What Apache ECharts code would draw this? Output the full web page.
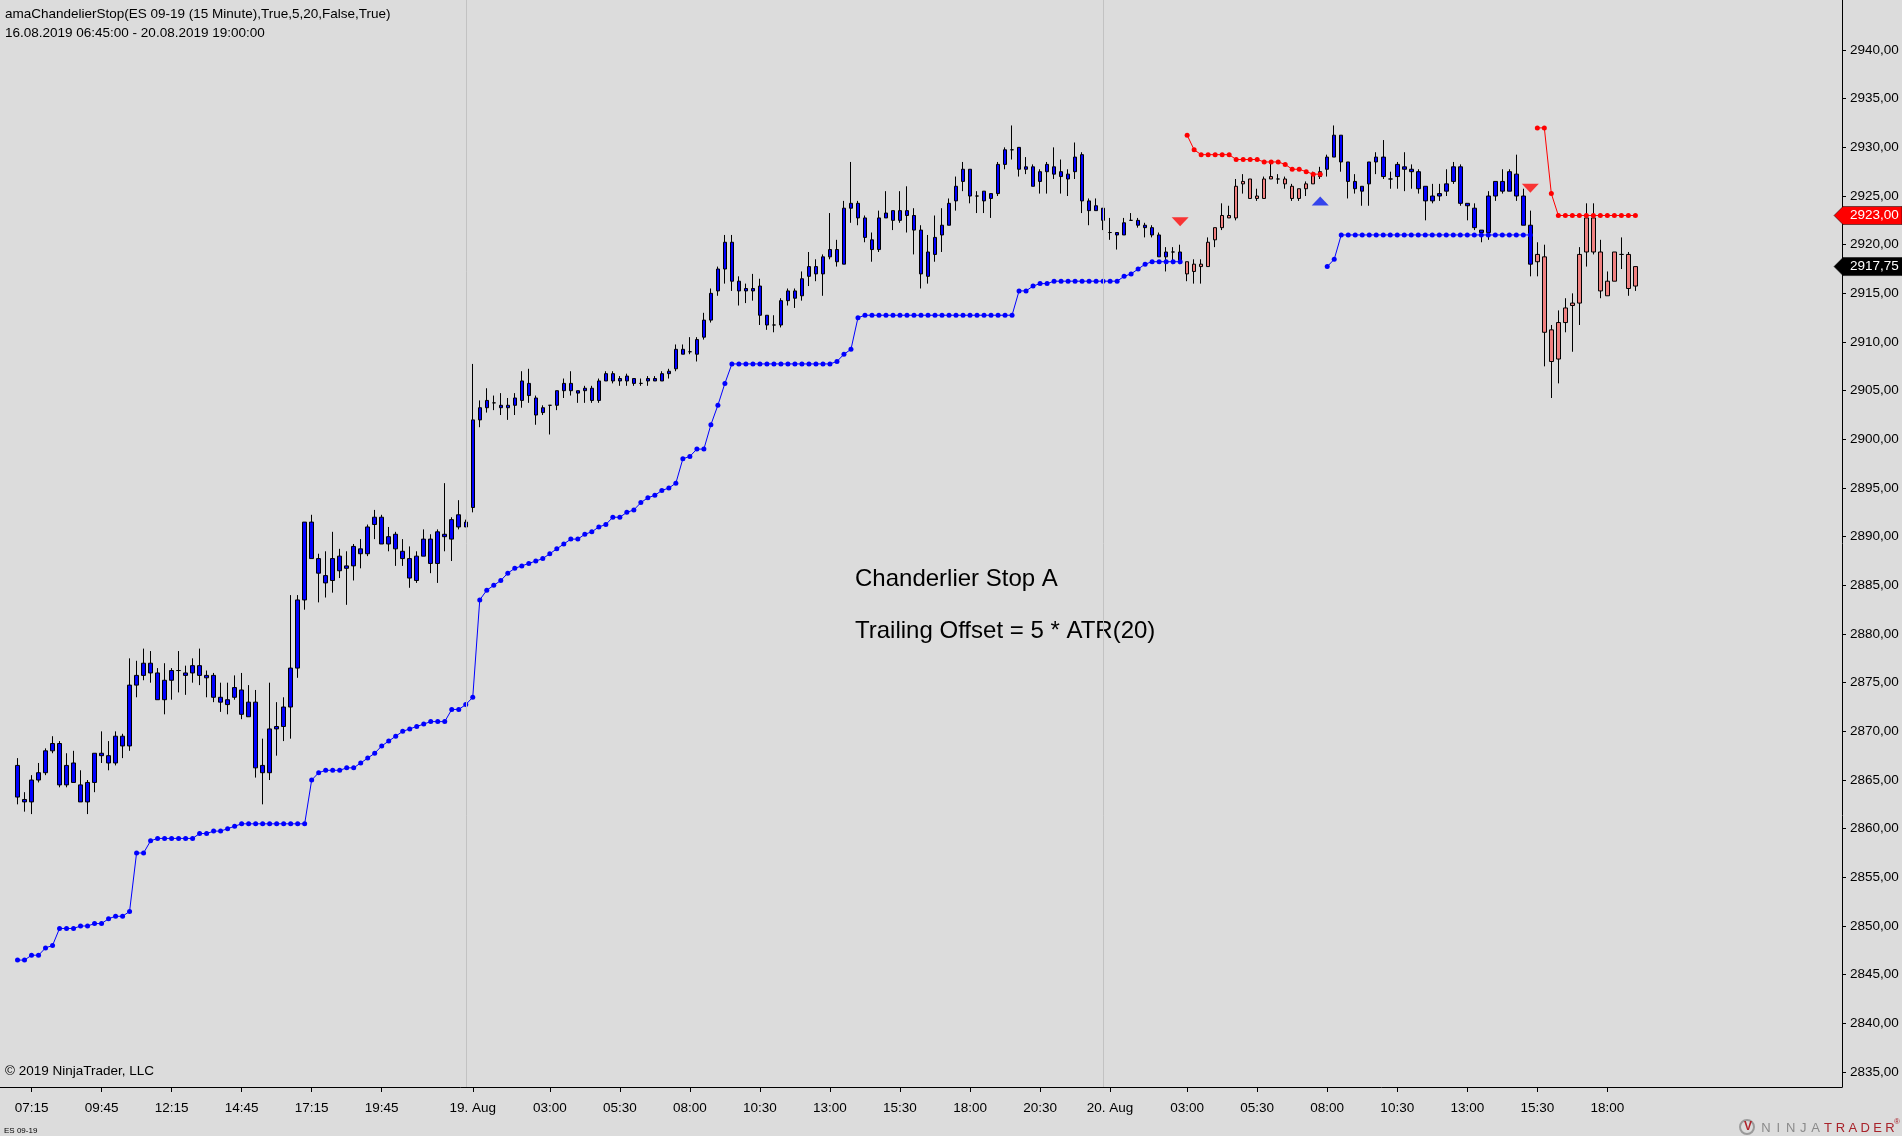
<!DOCTYPE html>
<html><head><meta charset="utf-8">
<script src="https://cdn.jsdelivr.net/npm/echarts@6/dist/echarts.min.js"></script>
<style>html,body{margin:0;padding:0;background:#dcdcdc;}#c{width:1902px;height:1136px;}</style>
</head><body><div id="c"></div>
<script>
const FONT = 'Arial, "Liberation Sans", sans-serif';

// ---- OHLC of the 232 fifteen-minute bars (ES 09-19) ----
const open = [
2866.5,2863,2862.75,2865,2865.75,2868,2868.75,2864.5,2866.75,2864.5,
2862.75,2864.75,2867.5,2867.5,2866.75,2869.5,2868.5,2874.75,2875.75,2877,
2876,2873.25,2875.25,2876.25,2876,2876,2876.75,2875.5,2875.75,2873.5,
2872.75,2873.5,2874.25,2871.5,2873,2866.5,2865.75,2870.25,2870.5,2872.5,
2876.5,2883.5,2891.5,2887.75,2886,2885.5,2888,2886.75,2887,2888.75,
2888.25,2891.25,2892,2889.25,2890.25,2888.5,2887.75,2885.5,2888,2889.75,
2887.25,2890.25,2889.75,2892.25,2891,2893,2902,2903.25,2903.75,2903.5,
2903.25,2903.5,2904,2905.75,2904.25,2902.75,2903.5,2903.5,2905,2905.75,
2905,2905,2905.25,2904,2906,2906.75,2906,2906.5,2906.25,2905.75,
2906,2906.25,2906,2906.75,2907.25,2909.25,2909,2908.75,2910.5,2912.25,
2915.25,2917.5,2920.25,2916.25,2915.25,2915.25,2915.75,2912.75,2911.75,2911.75,
2914.25,2915.25,2914.75,2916.75,2917.75,2917,2918.75,2919.5,2918,2923.75,
2924.25,2922.75,2920.5,2919.5,2922.75,2923.5,2922.5,2923.5,2923,2921.5,
2916.75,2919,2921,2922,2924.5,2926.5,2927.75,2925,2925.5,2924.75,
2925.25,2928.25,2929.75,2930,2927.75,2928,2926.5,2927.5,2928,2927.5,
2926.75,2927.5,2929.25,2924.5,2924,2923.75,2921.25,2921.25,2921,2922.5,
2922.5,2921.75,2921.75,2921,2918.75,2919.25,2919.25,2918.25,2917.25,2918,
2917.75,2920.5,2921.75,2923,2922.75,2926.25,2926.75,2925,2924.75,2927,
2926.75,2926.75,2926,2924.75,2925.75,2926.25,2927,2927.75,2929,2931.25,
2928.5,2926.5,2925.5,2926.25,2928.5,2929,2926.75,2927,2928,2927.75,
2927.5,2926,2924.5,2925,2925.5,2926.5,2928,2924.25,2923.75,2921.5,
2921.25,2925,2926.5,2925.5,2927.25,2925,2922,2918.25,2918.75,2911.25,
2908.25,2912,2913.75,2914,2919.25,2922.75,2919.25,2914.75,2916.25,2919,
2919,2915.75];
const high = [
2867.25,2863.75,2865.5,2866.75,2868.25,2869.5,2869,2867.75,2868,2866,
2865,2867.75,2870,2869,2870,2869.75,2877.5,2877.25,2878.5,2878.25,
2876.5,2877,2876.5,2878.25,2876.75,2877.5,2878.5,2876.25,2876,2875,
2875,2875.75,2876,2874.75,2874.25,2869.25,2875,2873,2873.5,2884,
2884,2891.5,2892.25,2888.25,2888.5,2890.5,2888.75,2888.5,2889.25,2889.75,
2891.25,2892.75,2892.25,2891,2890.5,2889.75,2889,2888.5,2890.75,2890.25,
2890.75,2895.5,2892,2893.75,2891.75,2907.75,2904,2905.25,2904.5,2904.75,
2904.25,2904.75,2907,2907.25,2904.5,2903.5,2903.5,2905,2906.25,2907,
2905,2905.5,2905.5,2906.25,2907,2907,2906.5,2906.75,2906.25,2906.25,
2906.5,2906.5,2907,2907.25,2909.75,2909.75,2910.5,2910.5,2913,2915.5,
2917.75,2921,2921,2916.75,2916,2917,2916.5,2912.75,2912.75,2914.5,
2915.5,2915.5,2917.25,2919.25,2918.5,2919,2923.25,2920.5,2924.5,2928.5,
2924.5,2923,2921.25,2923.5,2925.5,2923.5,2925.5,2926,2923.75,2922,
2921,2923,2923.75,2924.75,2927,2928.5,2927.75,2925.5,2925.5,2925.25,
2928.5,2930,2932.25,2930,2929,2928.25,2927.75,2928.5,2930,2928.75,
2927.75,2930.5,2929.5,2924.75,2924.75,2923.75,2922.75,2921.25,2922.75,2923.25,
2922.75,2922.25,2922,2921.25,2919.75,2919.75,2920,2918.25,2918.5,2918.5,
2920.75,2921.75,2924.25,2924,2926.75,2927.25,2926.75,2925.75,2927,2928.5,
2927.25,2927,2926.25,2925.75,2926.5,2927.5,2928,2929.25,2932.25,2931.25,
2928.5,2927.25,2926,2928.5,2929.5,2930.75,2927.5,2928.5,2929.5,2928.25,
2927.75,2926,2926.25,2926.25,2927.75,2928.5,2928.25,2924.25,2924.25,2921.5,
2925.5,2926.5,2927.75,2927.75,2929.25,2925.75,2923.5,2920.25,2920,2911.75,
2913.25,2914.5,2915,2919.75,2924.25,2924.25,2920.5,2917.25,2919.25,2920.75,
2919.25,2917.75];
const low = [
2862.5,2861.75,2861.5,2864.75,2865.5,2867.75,2864.25,2864.25,2864.75,2862.75,
2861.5,2863.75,2866.75,2866,2866.5,2867.25,2868,2873.5,2875.25,2875,
2873.25,2871.75,2873.25,2874,2873.75,2875,2874.75,2873.5,2873,2872,
2871.75,2873.25,2871.25,2871.5,2865.25,2862.5,2865,2867.5,2869,2869.25,
2875.5,2882.5,2887.75,2883.25,2883.75,2884.25,2885.75,2883,2885.5,2886.75,
2888,2889.75,2889.25,2888.5,2887,2887,2884.75,2885.25,2888,2886.25,
2885.25,2888.5,2887.5,2890.75,2891,2892.5,2901.25,2902.75,2903,2902.5,
2902,2902.5,2903.25,2903.75,2901.5,2902.5,2900.5,2903,2904.25,2904.5,
2903.75,2903.75,2903.75,2903.75,2906,2905.75,2905.5,2905.5,2905.5,2905.5,
2905.5,2906,2906,2906.25,2907,2908.75,2908.75,2908,2910.25,2912,
2914.75,2916,2915.25,2913.75,2914,2914.25,2911.75,2911.25,2911,2911.5,
2913.75,2913.5,2914.25,2915.75,2916.25,2914.75,2918.5,2917.75,2918,2922.25,
2922,2920.25,2918.25,2919.25,2922.75,2921.5,2922.25,2921.25,2919,2915.5,
2916,2918.25,2919.25,2922,2923.5,2925.5,2924.25,2923.25,2923.25,2922.75,
2925,2927.75,2928.75,2927,2927.25,2926,2925.25,2925.25,2926.75,2925.25,
2925,2926.75,2923.25,2922,2923.5,2921.5,2920.5,2919.5,2921,2922.5,
2921.75,2920.75,2920.75,2918.75,2917.25,2918,2918,2916.25,2916,2916,
2917.75,2919.75,2921.5,2922.75,2922.5,2925.25,2924.75,2924.5,2924.75,2926.75,
2926.25,2925.75,2924.5,2924.5,2925,2926.25,2926.75,2927,2929,2927.5,
2924.75,2925.25,2924,2924,2927.25,2926.75,2925.75,2925.75,2925.5,2925.75,
2925.25,2922.5,2924.25,2924.5,2925,2926.25,2924,2922.5,2921.5,2920.25,
2920.5,2924.5,2925.25,2925.5,2924.5,2922,2916.75,2916.75,2907.5,2904.25,
2905.75,2911,2909,2911.75,2917.75,2919,2914.5,2914.75,2916.25,2917.5,
2914.75,2915.25];
const close = [
2863.25,2862.75,2865,2865.75,2868,2868.75,2864.5,2866.5,2864.75,2862.75,
2864.75,2867.75,2867.75,2866.75,2869.5,2868.5,2874.75,2875.75,2877,2876,
2873.25,2875.25,2876.25,2876.25,2875.75,2876.75,2875.75,2875.75,2873.5,2873,
2873.25,2874.5,2871.75,2873,2866.25,2865.75,2870.25,2870.5,2872.5,2876.5,
2883.5,2891.5,2887.75,2886.25,2885.25,2887.75,2886.5,2887,2889,2888.25,
2891,2892,2889.25,2890,2888.75,2887.75,2885.75,2888,2889.75,2887.25,
2890.5,2890,2891.75,2891,2891.5,2902,2903.25,2904,2903.75,2903.25,
2903.5,2904.25,2906,2904.5,2902.5,2903.25,2903.5,2905,2905.75,2905,
2904.75,2905.25,2904,2906,2906.75,2906,2906.25,2906,2905.75,2905.75,
2906.25,2906,2906.75,2907,2909.25,2908.75,2909,2910.25,2912.25,2915,
2917.5,2920.25,2916.25,2915.25,2915.5,2915.5,2912.75,2911.75,2911.75,2914.25,
2915.25,2914.5,2916.5,2917.75,2917,2918.75,2919.5,2918.25,2923.75,2924.25,
2922.75,2920.75,2919.5,2922.75,2923.25,2922.5,2923.5,2923,2921.5,2917,
2919.25,2920.75,2922,2924.25,2926,2927.75,2925,2925,2924.5,2925.25,
2928.25,2929.75,2929.75,2927.75,2928,2926,2927.5,2928.25,2927.25,2927,
2927.25,2929,2924.5,2923.5,2923.5,2922.5,2921.25,2921,2922.25,2922.5,
2922,2922,2921,2918.75,2919.25,2919.25,2918.25,2917,2918,2917.75,
2920.25,2921.75,2923,2922.75,2926,2926.5,2924.75,2924.75,2926.75,2926.75,
2926.75,2926.25,2924.75,2925.75,2926.25,2927.25,2927.5,2929,2931.25,2928.5,
2926.5,2925.75,2926,2928.5,2929,2927,2926.75,2928.25,2927.75,2927.5,
2925.75,2924.5,2925,2925.25,2926.25,2928,2924.25,2924,2921.75,2921.25,
2925,2926.5,2925.5,2927.5,2925,2922,2918,2919,2911,2908,
2912,2913.5,2914,2919,2922.75,2919.25,2915.25,2916.25,2919.25,2919,
2915.5,2917.75];

// ---- Chandelier stop: long (blue) trailing stop per bar, null while short ----
const longStop = [
2846.5,2846.5,2847,2847,2847.75,2848,2849.75,2849.75,2849.75,2850,
2850,2850.25,2850.25,2850.75,2851,2851,2851.5,2857.5,2857.5,2858.75,
2859,2859,2859,2859,2859,2859,2859.5,2859.5,2859.75,2859.75,
2860,2860.25,2860.5,2860.5,2860.5,2860.5,2860.5,2860.5,2860.5,2860.5,
2860.5,2860.5,2865,2865.75,2866,2866,2866,2866.25,2866.25,2866.75,
2867.25,2867.75,2868.5,2869,2869.5,2870,2870.25,2870.5,2870.75,2871,
2871,2871,2872.25,2872.25,2872.75,2873.5,2883.5,2884.5,2885,2885.5,
2886.25,2886.75,2887,2887.25,2887.5,2887.75,2888.25,2888.75,2889.25,2889.75,
2889.75,2890.25,2890.5,2891,2891.25,2892,2892,2892.5,2892.75,2893.5,
2894,2894.25,2894.75,2895,2895.5,2898,2898.25,2899,2899,2901.5,
2903.5,2905.75,2907.75,2907.75,2907.75,2907.75,2907.75,2907.75,2907.75,2907.75,
2907.75,2907.75,2907.75,2907.75,2907.75,2907.75,2907.75,2908,2908.75,2909.25,
2912.5,2912.75,2912.75,2912.75,2912.75,2912.75,2912.75,2912.75,2912.75,2912.75,
2912.75,2912.75,2912.75,2912.75,2912.75,2912.75,2912.75,2912.75,2912.75,2912.75,
2912.75,2912.75,2912.75,2915.25,2915.25,2915.75,2916,2916,2916.25,2916.25,
2916.25,2916.25,2916.25,2916.25,2916.25,2916.25,2916.25,2916.25,2916.75,2917,
2917.5,2918,2918.25,2918.25,2918.25,2918.25,2918.25,null,null,null,
null,null,null,null,null,null,null,null,null,null,
null,null,null,null,null,null,null,2917.75,2918.5,2921,
2921,2921,2921,2921,2921,2921,2921,2921,2921,2921,
2921,2921,2921,2921,2921,2921,2921,2921,2921,2921,
2921,2921,2921,2921,2921,2921,2921,null,null,null,
null,null,null,null,null,null,null,null,null,null,
null,null];

// ---- short (red) trailing stop: two segments, first bar index of each ----
const shortStopAStart = 167;
const shortStopA = [2931.25,2929.75,2929.25,2929.25,2929.25,2929.25,2929.25,2928.75,2928.75,2928.75,
                    2928.75,2928.5,2928.5,2928.5,2928.25,2927.75,2927.75,2927.5,2927.25,2927.25];
const shortStopBStart = 217;
const shortStopB = [2932,2932,2925.25,2923,2923,2923,2923,2923,2923,2923,2923,2923,2923,2923,2923];

// ---- reversal signals ----
const signalBars = [166, 186, 216];
const signalPrices = [2922.35, 2924.5, 2925.8];
const signalTypes = ['sell', 'buy', 'sell'];

// ---- axes ----
const yTicks = [2835,2840,2845,2850,2855,2860,2865,2870,2875,2880,2885,2890,2895,2900,2905,2910,2915,2920,2925,2930,2935,2940];
const xTickIndex = [2,12,22,32,42,52,65,76,86,96,106,116,126,136,146,156,167,177,187,197,207,217,227];
const dayBreaks = [64, 155];
const sessions = [
  {start: 405, end: 1380, skip: 1350, first: null},
  {start: 15, end: 1380, skip: 1350, first: '19. Aug'},
  {start: 15, end: 1140, skip: null, first: '20. Aug'}
];

const N = open.length;
const shortStop = new Array(N).fill(null);
shortStopA.forEach((v, k) => shortStop[shortStopAStart + k] = v);
shortStopB.forEach((v, k) => shortStop[shortStopBStart + k] = v);

const p2 = n => (n < 10 ? '0' : '') + n;
const barTimes = [];
sessions.forEach(s => {
  for (let m = s.start; m <= s.end; m += 15) {
    if (m === s.skip) continue;
    barTimes.push(m === s.start && s.first ? s.first : p2(Math.floor(m / 60)) + ':' + p2(m % 60));
  }
});

const PAD_L = 2, PAD_R = 29;
const cats = [].concat(new Array(PAD_L).fill(''), barTimes, new Array(PAD_R).fill(''));
const tickSet = new Set(xTickIndex.map(i => i + PAD_L));
const padLine = arr => [].concat(new Array(PAD_L).fill('-'), arr.map(v => v == null ? '-' : v), new Array(PAD_R).fill('-'));

const candleData = [];
for (let k = 0; k < PAD_L; k++) candleData.push(['-','-','-','-']);
for (let i = 0; i < N; i++) {
  const isShort = shortStop[i] != null;
  candleData.push({
    value: [open[i], close[i], low[i], high[i]],
    itemStyle: {
      color: isShort ? '#f08080' : '#0000ff',
      color0: isShort ? '#ff0000' : '#87cefa',
      borderColor: '#000', borderColor0: '#000', borderWidth: 1
    }
  });
}
for (let k = 0; k < PAD_R; k++) candleData.push(['-','-','-','-']);

const fmt = v => v.toFixed(2).replace('.', ',');

const chart = echarts.init(document.getElementById('c'));
chart.setOption({
  animation: false,
  backgroundColor: '#dcdcdc',
  grid: {left: 0, right: 60, top: 0, bottom: 49, containLabel: false},
  xAxis: {
    type: 'category', data: cats, boundaryGap: true,
    axisLine: {show: true, onZero: false, lineStyle: {color: '#000', width: 1}},
    axisTick: {show: true, alignWithLabel: true, length: 5, interval: idx => tickSet.has(idx), lineStyle: {color: '#000'}},
    axisLabel: {show: true, interval: idx => tickSet.has(idx), color: '#000', fontSize: 13.5, fontFamily: FONT, margin: 14,
                formatter: (val) => val},
    splitLine: {show: false}
  },
  yAxis: {
    type: 'value', position: 'right', min: 2833.46, max: 2945.14,
    axisLine: {show: true, lineStyle: {color: '#000', width: 1}},
    axisTick: {show: true, length: 4, customValues: yTicks, lineStyle: {color: '#000'}},
    axisLabel: {show: true, customValues: yTicks, color: '#000', fontSize: 13.5, fontFamily: FONT, margin: 8, formatter: v => fmt(v)},
    splitLine: {show: false}
  },
  series: [
    {
      type: 'candlestick', data: candleData, barWidth: 4, z: 2, silent: true,
      markLine: {
        silent: true, symbol: ['none', 'none'], label: {show: false},
        lineStyle: {color: '#c2c2c2', width: 1, type: 'solid'},
        emphasis: {disabled: true},
        data: dayBreaks.map(b => ({xAxis: b + PAD_L}))
      }
    },
    {
      type: 'line', data: padLine(longStop), symbol: 'circle', symbolSize: 5, showAllSymbol: true,
      connectNulls: false, lineStyle: {color: '#0000ff', width: 1}, itemStyle: {color: '#0000ff'}, z: 3, silent: true
    },
    {
      type: 'line', data: padLine(shortStop), symbol: 'circle', symbolSize: 5, showAllSymbol: true,
      connectNulls: false, lineStyle: {color: '#ff0000', width: 1}, itemStyle: {color: '#ff0000'}, z: 3, silent: true
    },
    {
      type: 'scatter', z: 4, silent: true, symbolSize: [17, 9],
      data: signalBars.map((b, k) => ({
        value: [b + PAD_L, signalPrices[k]],
        symbol: 'triangle',
        symbolRotate: signalTypes[k] === 'sell' ? 180 : 0,
        itemStyle: {color: signalTypes[k] === 'sell' ? '#ff0a0a' : '#0a1ef0'}
      }))
    }
  ]
});

function priceTag(value, fill) {
  const y = chart.convertToPixel({yAxisIndex: 0}, value);
  return [
    {type: 'polygon', z: 100, shape: {points: [[1834, y], [1843, y - 9], [1902, y - 9], [1902, y + 9], [1843, y + 9]]},
     style: {fill: fill, stroke: '#000', lineWidth: 0.5}},
    {type: 'text', z: 101, x: 1850, y: y, style: {text: fmt(value), fill: '#fff', font: '13.5px ' + FONT, verticalAlign: 'middle'}}
  ];
}

const graphics = [
  {type: 'text', x: 5, y: 7, style: {text: 'amaChandelierStop(ES 09-19 (15 Minute),True,5,20,False,True)', fill: '#000', font: '13.5px ' + FONT, verticalAlign: 'top'}},
  {type: 'text', x: 5, y: 26, style: {text: '16.08.2019 06:45:00 - 20.08.2019 19:00:00', fill: '#000', font: '13.5px ' + FONT, verticalAlign: 'top'}},
  {type: 'text', x: 5, y: 1064, style: {text: '\u00A9 2019 NinjaTrader, LLC', fill: '#000', font: '13.5px ' + FONT, verticalAlign: 'top'}},
  {type: 'text', x: 4, y: 1127, style: {text: 'ES 09-19', fill: '#000', font: '8px ' + FONT, verticalAlign: 'top'}},
  {type: 'text', x: 855, y: 567, style: {text: 'Chanderlier Stop A', fill: '#000', font: '24px ' + FONT, verticalAlign: 'top'}},
  {type: 'text', x: 855, y: 619, style: {text: 'Trailing Offset = 5 * ATR(20)', fill: '#000', font: '24px ' + FONT, verticalAlign: 'top'}},
  {type: 'circle', shape: {cx: 1747, cy: 1127, r: 7}, style: {fill: 'none', stroke: '#9a9a9a', lineWidth: 2}},
  {type: 'text', x: 1748, y: 1127, style: {text: 'V', fill: '#b0242c', font: 'bold 12px ' + FONT, align: 'center', verticalAlign: 'middle'}}
];
const logo = 'NINJATRADER';
for (let k = 0; k < logo.length; k++) {
  graphics.push({type: 'text', x: 1766 + k * 12.4, y: 1128, style: {text: logo[k], fill: k < 5 ? '#8a8a8a' : '#a8232b', font: '13px ' + FONT, align: 'center', verticalAlign: 'middle'}});
}
graphics.push({type: 'text', x: 1897, y: 1122, style: {text: '\u00AE', fill: '#a8232b', font: '8px ' + FONT, align: 'center', verticalAlign: 'middle'}});

const lastShort = shortStop[N - 1];
const lastClose = close[N - 1];
graphics.push(...priceTag(lastShort, '#ff0000'));
graphics.push(...priceTag(lastClose, '#000000'));

chart.setOption({graphic: graphics});
</script>
</body></html>
